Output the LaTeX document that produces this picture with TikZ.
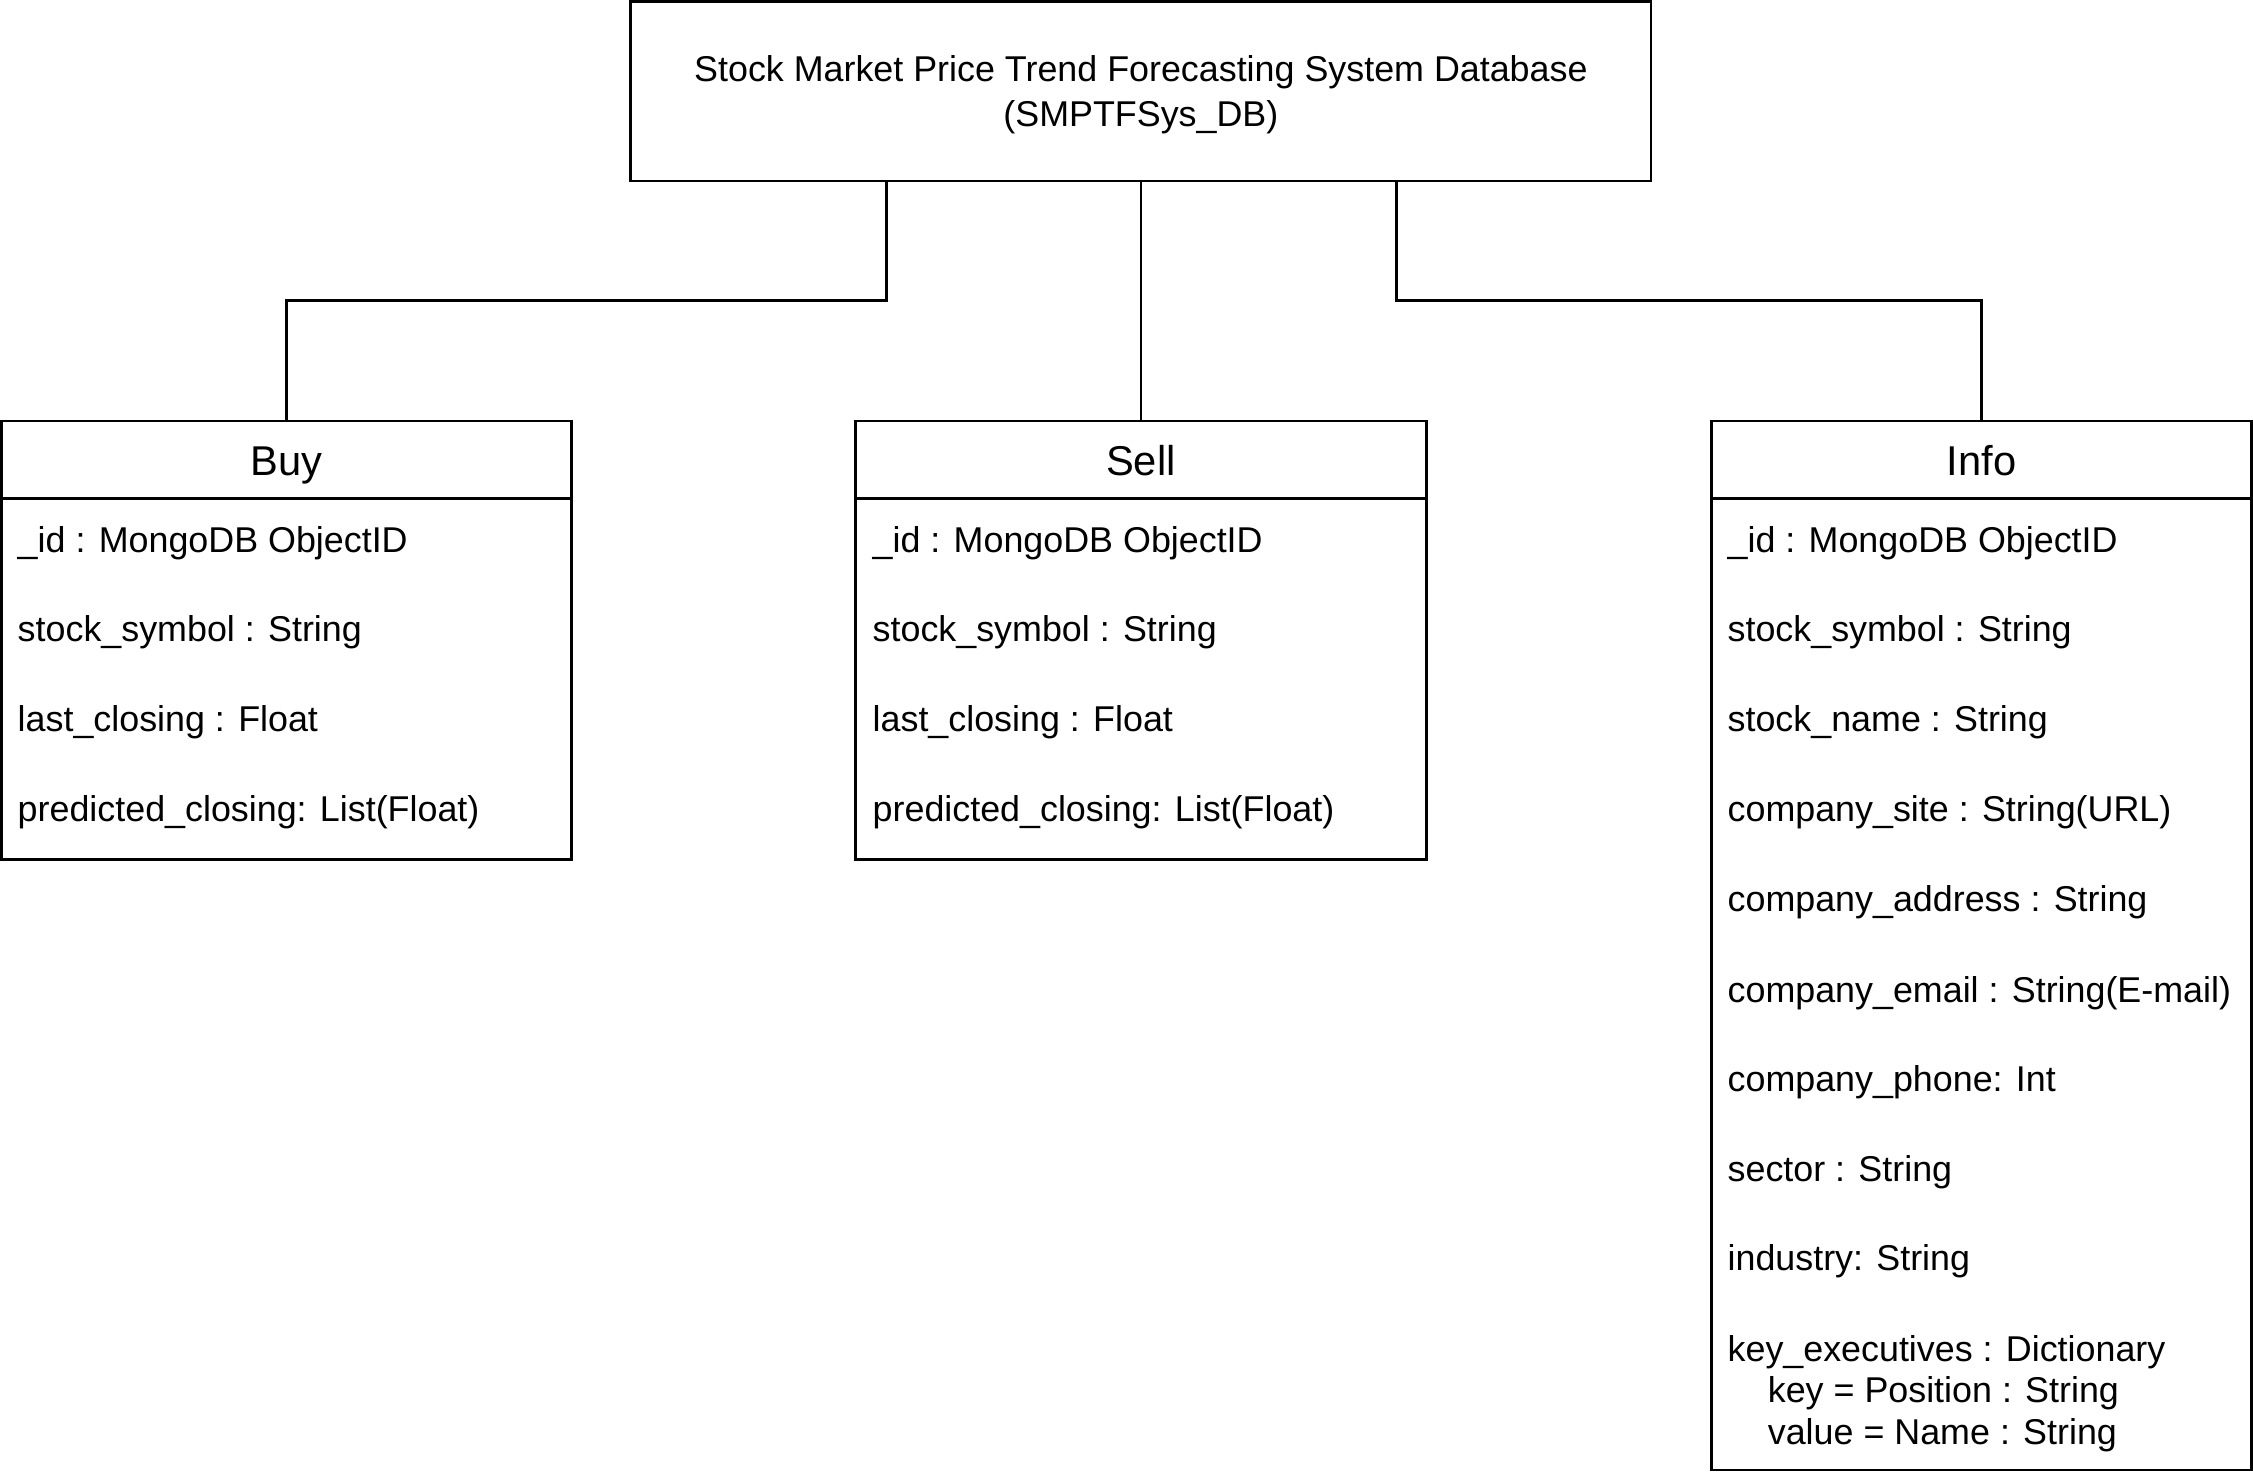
\documentclass[tikz,border=0pt]{standalone}
\usepackage{fontspec}
\setmainfont{Liberation Sans}
\usetikzlibrary{positioning}

\begin{document}
\begin{tikzpicture}[
    box/.style={draw, line width=1.1pt, outer sep=0pt, inner sep=0pt},
    head/.style={box, minimum height=1.08cm, text height=1.25em, text depth=0pt, font=\fontsize{16.5}{20}\selectfont},
    field/.style={anchor=west, inner sep=0pt, text height=0.75em, text depth=0.25em, font=\fontsize{14.2}{17}\selectfont},
    link/.style={line width=1.1pt}]
    \useasboundingbox (0,0) rectangle (31.36,-20.63);
%
    \node[box, minimum width=14.2cm, minimum height=2.5cm, align=center, font=\fontsize{14.2}{17.6}\selectfont] (db) at (15.88,-1.27) {\rule{0pt}{0.46cm}Stock Market Price Trend Forecasting System Database\\(SMPTFSys\_DB)};
%
    \node[head, minimum width=7.94cm] (buy) at (3.99,-6.40) {Buy};
    \node[box, minimum width=7.94cm, minimum height=5.02cm, below=0pt of buy] (buybody) {};
    \node[field] (buy1) at (0.24,-7.60) {\_id : MongoDB ObjectID};
    \node[field] (buy2) at (0.24,-8.84) {stock\_symbol : String};
    \node[field] (buy3) at (0.24,-10.10) {last\_closing : Float};
    \node[field] (buy4) at (0.24,-11.34) {predicted\_closing: List(Float)};
%
    \node[head, minimum width=7.94cm] (sell) at (15.88,-6.40) {Sell};
    \node[box, minimum width=7.94cm, minimum height=5.02cm, below=0pt of sell] (sellbody) {};
    \node[field] (sell1) at (12.14,-7.60) {\_id : MongoDB ObjectID};
    \node[field] (sell2) at (12.14,-8.84) {stock\_symbol : String};
    \node[field] (sell3) at (12.14,-10.10) {last\_closing : Float};
    \node[field] (sell4) at (12.14,-11.34) {predicted\_closing: List(Float)};
%
    \node[head, minimum width=7.52cm] (info) at (27.58,-6.40) {Info};
    \node[box, minimum width=7.52cm, minimum height=13.52cm, below=0pt of info] (infobody) {};
    \node[field] (info1) at (24.04,-7.60) {\_id : MongoDB ObjectID};
    \node[field] (info2) at (24.04,-8.84) {stock\_symbol : String};
    \node[field] (info3) at (24.04,-10.10) {stock\_name : String};
    \node[field] (info4) at (24.04,-11.34) {company\_site : String(URL)};
    \node[field] (info5) at (24.04,-12.60) {company\_address : String};
    \node[field] (info6) at (24.04,-13.86) {company\_email : String(E-mail)};
    \node[field] (info7) at (24.04,-15.10) {company\_phone: Int};
    \node[field] (info8) at (24.04,-16.36) {sector : String};
    \node[field] (info9) at (24.04,-17.60) {industry: String};
    \node[field] (info10) at (24.04,-18.86) {key\_executives : Dictionary};
    \node[field] (info11) at (24.60,-19.44) {key = Position : String};
    \node[field] (info12) at (24.60,-20.02) {value = Name : String};
%
    \draw[link] ([xshift=-3.54cm]db.south) -- ++(0,-1.66) -| (buy.north);
    \draw[link] (db.south) -- (sell.north);
    \draw[link] ([xshift=3.56cm]db.south) -- ++(0,-1.66) -| (info.north);
\end{tikzpicture}
\end{document}
